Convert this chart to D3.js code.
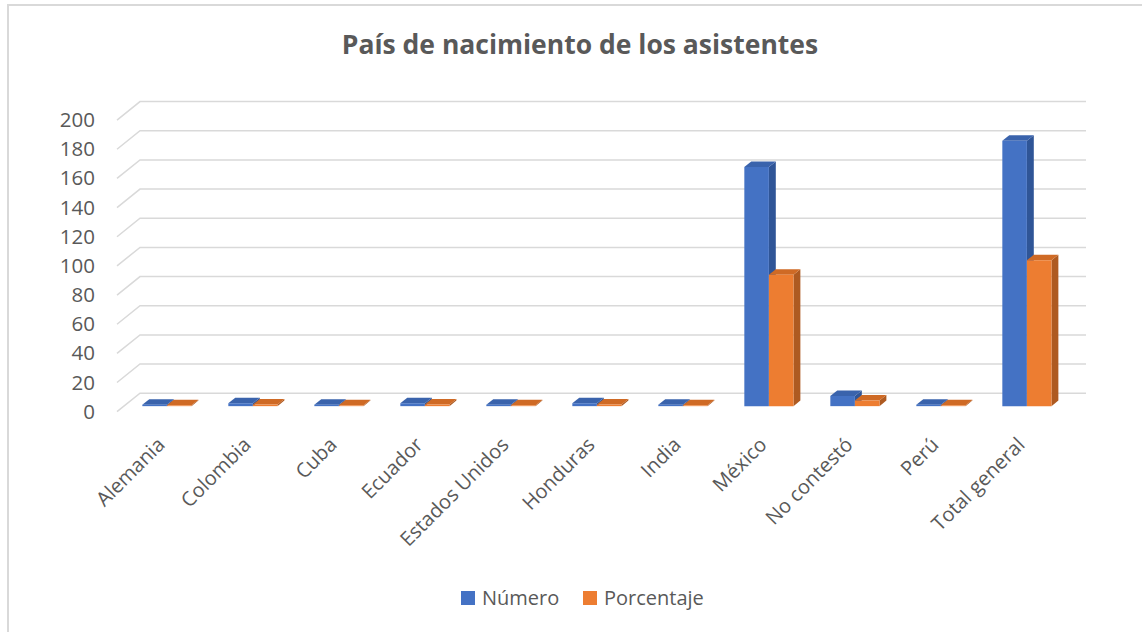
<!DOCTYPE html>
<html>
<head>
<meta charset="utf-8">
<script src="https://cdn.jsdelivr.net/npm/d3@7"></script>
<style>
  html, body { margin: 0; padding: 0; background: #fff; }
  svg { display: block; font-family: "Open Sans", "Noto Sans", sans-serif; }
</style>
</head>
<body>
<svg id="chart" width="1142" height="632"></svg>
<script>
const categories = ["Alemania","Colombia","Cuba","Ecuador","Estados Unidos","Honduras","India","México","No contestó","Perú","Total general"];
const seriesNames = ["Número","Porcentaje"];
const numero = [1,2,1,2,1,2,1,164,7,1,182];
const porcentaje = [0.55,1.1,0.55,1.1,0.55,1.1,0.55,90.11,3.85,0.55,100];
const yTicks = [0,20,40,60,80,100,120,140,160,180,200];
const title = "País de nacimiento de los asistentes";

const colors = {
  "Número": {front:"#4472C4", side:"#2F5597", top:"#3A63AC"},
  "Porcentaje": {front:"#ED7D31", side:"#AE5A21", top:"#CF6A25"}
};

const svg = d3.select("#chart");

// chart border
svg.append("rect").attr("x",8).attr("y",5).attr("width",1150).attr("height",640)
  .attr("fill","none").attr("stroke","#d9d9d9").attr("stroke-width",2);

// title
svg.append("text").attr("x",580).attr("y",54).attr("text-anchor","middle")
  .attr("font-size",26.5).attr("font-weight","bold").attr("fill","#595959").text(title);

const DX = 23, DY = -18.5, ZF = 0.3, ZB = 0.6;
const x = d3.scaleBand().domain(categories).range([117,1063]);
const xs = d3.scaleBand().domain(seriesNames).range([0, x.bandwidth()]).paddingOuter(0.75);
const y = d3.scaleLinear().domain([0,200]).range([411.7,120.1]);
const P = (px, v, z) => [px + z*DX, y(v) + z*DY];

// gridlines (side wall diagonal + back wall)
const grid = svg.append("g");
yTicks.forEach(t => {
  const x0 = x.range()[0], x1 = x.range()[1];
  grid.append("path")
    .attr("d", `M${x0},${y(t)}L${x0+DX},${y(t)+DY}L${x1+DX},${y(t)+DY}`)
    .attr("fill","none").attr("stroke","#d9d9d9").attr("stroke-width",1.5);
});

// y axis labels
const yAxis = svg.append("g").attr("transform","translate(101,0)")
  .call(d3.axisLeft(y).tickValues(yTicks).tickSize(0).tickPadding(6));
yAxis.select(".domain").remove();
yAxis.selectAll("text").attr("font-size",20.5).attr("fill","#595959")
  .attr("font-family","'Open Sans', sans-serif");

// bars
const data = categories.map((c,i) => ({cat:c, vals:[numero[i], porcentaje[i]]}));
const bars = svg.append("g");
const poly = pts => "M" + pts.map(p => p.join(",")).join("L") + "Z";
data.forEach(d => {
  seriesNames.forEach((s, si) => {
    const v = d.vals[si];
    const x0 = x(d.cat) + xs(s), w = xs.bandwidth();
    const g = bars.append("g");
    g.append("path").attr("d", poly([P(x0+w,0,ZF),P(x0+w,0,ZB),P(x0+w,v,ZB),P(x0+w,v,ZF)]))
      .attr("fill", colors[s].side);
    g.append("path").attr("d", poly([P(x0,v,ZF),P(x0+w,v,ZF),P(x0+w,v,ZB),P(x0,v,ZB)]))
      .attr("fill", colors[s].top);
    g.append("path").attr("d", poly([P(x0,0,ZF),P(x0+w,0,ZF),P(x0+w,v,ZF),P(x0,v,ZF)]))
      .attr("fill", colors[s].front);
  });
});

// x axis labels
const xAxis = svg.append("g").attr("transform","translate(6,446)")
  .call(d3.axisBottom(x).tickSize(0));
xAxis.select(".domain").remove();
xAxis.selectAll("text").attr("y",0).attr("dy","0").attr("x",0)
  .attr("transform","rotate(-45)").attr("text-anchor","end")
  .attr("font-size",20).attr("fill","#595959").attr("font-family","'Open Sans', sans-serif");

// legend
const legend = svg.append("g");
const legendX = [461, 583];
seriesNames.forEach((s, i) => {
  legend.append("rect").attr("x",legendX[i]).attr("y",591).attr("width",14).attr("height",14)
    .attr("fill", colors[s].front);
  legend.append("text").attr("x",legendX[i]+21).attr("y",605).attr("font-size",20)
    .attr("fill","#595959").text(s);
});
</script>
</body>
</html>
